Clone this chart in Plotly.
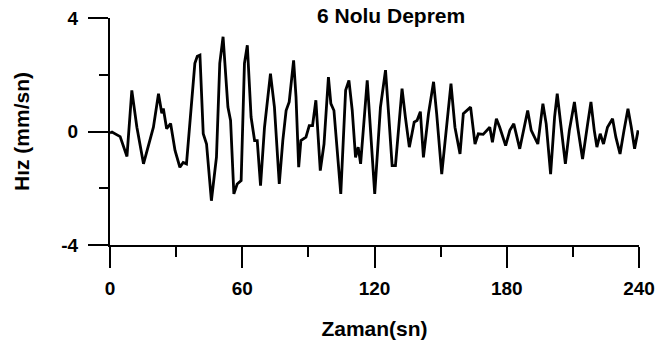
import plotly.graph_objects as go

# Time (s) and velocity (mm/s)
zaman = [0, 0.9, 4.6, 7.7, 9.9, 12.2, 15.2, 19.7, 22.0, 23.5, 24.2, 25.7, 27.5, 29.5,
         31.7, 33.2, 34.7, 37.0, 38.5, 39.6, 40.8, 42.3, 43.8, 46.0, 48.3, 49.8, 51.3,
         53.5, 54.7, 56.2, 57.7, 59.5, 61.0, 62.3, 64.0, 65.6, 66.8, 68.3, 70.1, 72.8,
         74.6, 76.8, 78.4, 79.9, 81.3, 83.3, 84.4, 85.6, 86.6, 88.9, 90.4, 91.9, 93.4,
         95.4, 97.1, 99.1, 100.2, 101.6, 104.7, 106.9, 108.4, 109.9, 111.4, 112.6,
         113.7, 116.7, 118.2, 120.1, 122.7, 125.0, 126.4, 128.0, 129.5, 132.5, 134.0,
         135.8, 137.0, 138.0, 139.3, 140.8, 142.2, 144.5, 146.8, 148.2, 150.5, 152.8,
         154.7, 156.5, 157.3, 158.8, 160.3, 161.8, 163.6, 165.6, 167.1, 169.3, 170.8,
         172.3, 173.5, 175.3, 176.8, 179.5, 181.4, 183.2, 185.9, 188.1, 189.5, 191.1,
         194.1, 196.4, 197.9, 199.9, 201.7, 202.9, 204.7, 206.6, 208.4, 210.7, 212.2,
         214.4, 216.7, 218.2, 219.7, 220.9, 222.4, 223.9, 225.7, 228.0, 229.5, 231.4,
         233.2, 235.0, 236.5, 238.0, 239.6]
hiz = [-0.05, -0.02, -0.18, -0.88, 1.45, 0.15, -1.14, 0.15, 1.33, 0.64, 0.81, 0.10, 0.28,
       -0.67, -1.26, -1.09, -1.14, 0.98, 2.40, 2.65, 2.69, -0.08, -0.44, -2.44, -0.90,
       2.40, 3.34, 0.86, 0.39, -2.20, -1.85, -1.73, 2.40, 3.04, 0.51, -0.32, -0.32,
       -1.91, 0.15, 2.04, 0.86, -1.85, -0.32, 0.74, 1.04, 2.51, 1.21, -1.26, -0.32,
       -0.20, 0.21, 0.21, 1.10, -1.38, -0.44, 1.92, 0.98, 0.74, -2.20, 1.45, 1.80,
       0.74, -0.91, -0.55, -1.14, 1.80, 0.04, -2.20, 0.86, 2.16, 0.63, -1.20, -1.20,
       1.51, 0.51, -0.55, -0.08, 0.33, 0.39, 0.70, -0.91, 0.63, 1.75, 0.63, -1.50,
       0.27, 1.69, 0.15, -0.20, -0.79, 0.63, 0.74, 0.86, -0.44, -0.08, -0.10, 0.04,
       0.15, -0.38, 0.45, 0.15, -0.50, 0.04, 0.27, -0.61, 0.27, 0.74, 0.04, -0.44,
       0.98, 0.27, -1.50, 0.51, 1.33, 0.04, -1.14, 0.04, 1.04, 0.15, -0.97, 0.27,
       1.04, 0.04, -0.55, -0.08, -0.44, 0.15, 0.45, -0.20, -0.79, 0.04, 0.80, 0.15,
       -0.61, 0.04]

x_ticks = [0, 60, 120, 180, 240]
x_labels = ["0", "60", "120", "180", "240"]
y_ticks = [-4, 0, 4]
y_labels = ["-4", "0", "4"]

FAM = "Liberation Sans, Arial, sans-serif"
TICKFONT = dict(family=FAM, size=19, color="black", weight="bold")
TITLEFONT = dict(family=FAM, size=21, color="black", weight="bold")

fig = go.Figure()
fig.add_trace(go.Scatter(x=zaman, y=hiz, mode="lines",
                         line=dict(color="black", width=2.8), showlegend=False))

fig.update_layout(
    width=658, height=356,
    margin=dict(l=110, r=19, t=18, b=111),
    paper_bgcolor="white", plot_bgcolor="white",
    font=TICKFONT,
    xaxis=dict(range=[0, 240], tickvals=x_ticks, ticktext=x_labels, automargin=False,
               showgrid=False, zeroline=False, showline=True, linecolor="black",
               linewidth=2, ticks="outside", ticklen=21, tickwidth=2, tickcolor="black",
               tickfont=TICKFONT, ticklabelstandoff=4,
               minor=dict(dtick=30, tick0=0, ticks="outside", ticklen=10, tickwidth=2,
                          tickcolor="black", showgrid=False),
               title=dict(text="Zaman(sn)", font=TITLEFONT, standoff=24)),
    yaxis=dict(range=[-4, 4], tickvals=y_ticks, ticktext=y_labels, automargin=False,
               showgrid=False, zeroline=False, showline=True, linecolor="black",
               linewidth=2, ticks="outside", ticklen=20, tickwidth=2, tickcolor="black",
               tickfont=TICKFONT, ticklabelstandoff=6,
               minor=dict(dtick=2, tick0=0, ticks="outside", ticklen=9, tickwidth=2,
                          tickcolor="black", showgrid=False),
               title=dict(text="Hız (mm/sn)", font=TITLEFONT, standoff=26)),
    annotations=[dict(text="6 Nolu Deprem", x=127.5, xref="x", y=1.009, yref="paper",
                      yanchor="middle", xanchor="center", showarrow=False,
                      font=TITLEFONT)],
)

fig.write_html("out.html", config={"displayModeBar": False})

# remove the default page margin so the figure sits at the window origin
with open("out.html", "r", encoding="utf-8") as f:
    html = f.read()
html = html.replace("<head>", "<head><style>html,body{margin:0;padding:0;overflow:hidden;}</style>", 1)
with open("out.html", "w", encoding="utf-8") as f:
    f.write(html)
